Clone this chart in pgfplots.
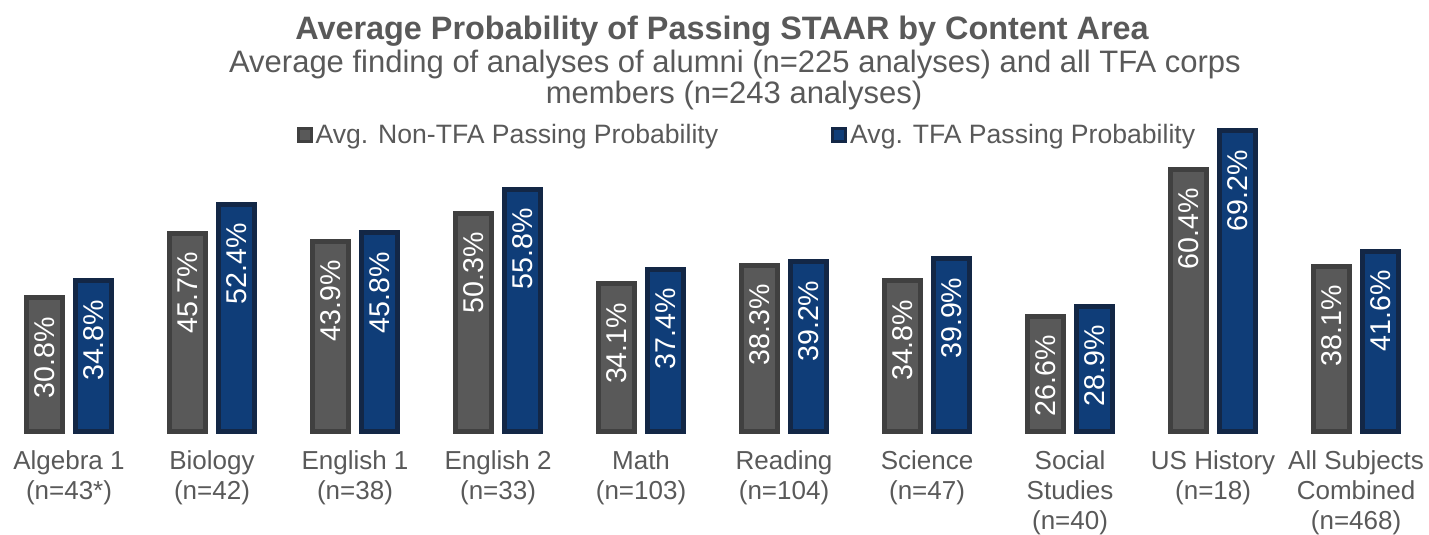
\documentclass[border=0pt]{standalone}
\usepackage{pgfplots}
\pgfplotsset{compat=1.18}
\usepackage{fontspec}
\setmainfont{Liberation Sans}
\definecolor{gfill}{RGB}{89,89,89}
\definecolor{gline}{RGB}{64,64,64}
\definecolor{bfill}{RGB}{15,61,120}
\definecolor{bline}{RGB}{19,39,70}
\definecolor{txt}{RGB}{89,89,89}
\begin{document}
\begin{tikzpicture}
\useasboundingbox (0pt,0pt) rectangle (714.5pt,267.5pt);
\begin{axis}[
  at={(0pt,51.5pt)}, anchor=south west,
  scale only axis, width=714.5pt, height=216pt,
  xmin=-0.4825, xmax=9.51, ymin=0, ymax=99.3,
  clip=false,
  ybar=6.5pt, bar width=18pt,
  axis line style={draw=none},
  major tick length=0pt,
  ytick=\empty,
  xtick={0,...,9},
  xticklabels={{Algebra 1\\(n=43*)},{Biology\\(n=42)},{English 1\\(n=38)},{English 2\\(n=33)},{Math\\(n=103)},{Reading\\(n=104)},{Science\\(n=47)},{Social\\Studies\\(n=40)},{US History\\(n=18)},{All Subjects\\Combined\\(n=468)}},
  xticklabel style={align=center, anchor=north, font=\fontsize{13}{15}\selectfont, text=txt, yshift=-6pt},
  /pgf/number format/assume math mode=true,
  nodes near coords={\pgfmathprintnumber[fixed,fixed zerofill,precision=1]{\pgfplotspointmeta}\%},
  every node near coord/.append style={yshift=-5pt, rotate=90, anchor=east, text=white, font=\fontsize{14.3}{16}\selectfont},
  legend style={at={(0.523,0.6875)}, anchor=center, draw=none, fill=none, legend columns=2,
    font=\fontsize{13.3}{15}\selectfont, text=txt,
    /tikz/every even column/.append style={column sep=55pt},
    nodes={inner sep=1.5pt}},
  legend image code/.code={\draw[#1, line width=1.5pt] (0pt,-3.25pt) rectangle (6.5pt,3.25pt);},
]
\addplot[fill=gfill, draw=gline, line width=2.5pt] coordinates {(0,30.8) (1,45.7) (2,43.9) (3,50.3) (4,34.1) (5,38.3) (6,34.8) (7,26.6) (8,60.4) (9,38.1)};
\addplot[fill=bfill, draw=bline, line width=2.5pt] coordinates {(0,34.8) (1,52.4) (2,45.8) (3,55.8) (4,37.4) (5,39.2) (6,39.9) (7,28.9) (8,69.2) (9,41.6)};
\legend{Avg. Non-TFA Passing Probability, Avg. TFA Passing Probability}
\end{axis}
\node[font=\fontsize{16.2}{18}\selectfont\bfseries, text=txt] at (361pt,252pt) {Average Probability of Passing STAAR by Content Area};
\node[font=\fontsize{15.5}{17}\selectfont, text=txt] at (367.5pt,235.5pt) {Average finding of analyses of alumni (n=225 analyses) and all TFA corps};
\node[font=\fontsize{15.5}{17}\selectfont, text=txt] at (367pt,220pt) {members (n=243 analyses)};
\end{tikzpicture}
\end{document}
